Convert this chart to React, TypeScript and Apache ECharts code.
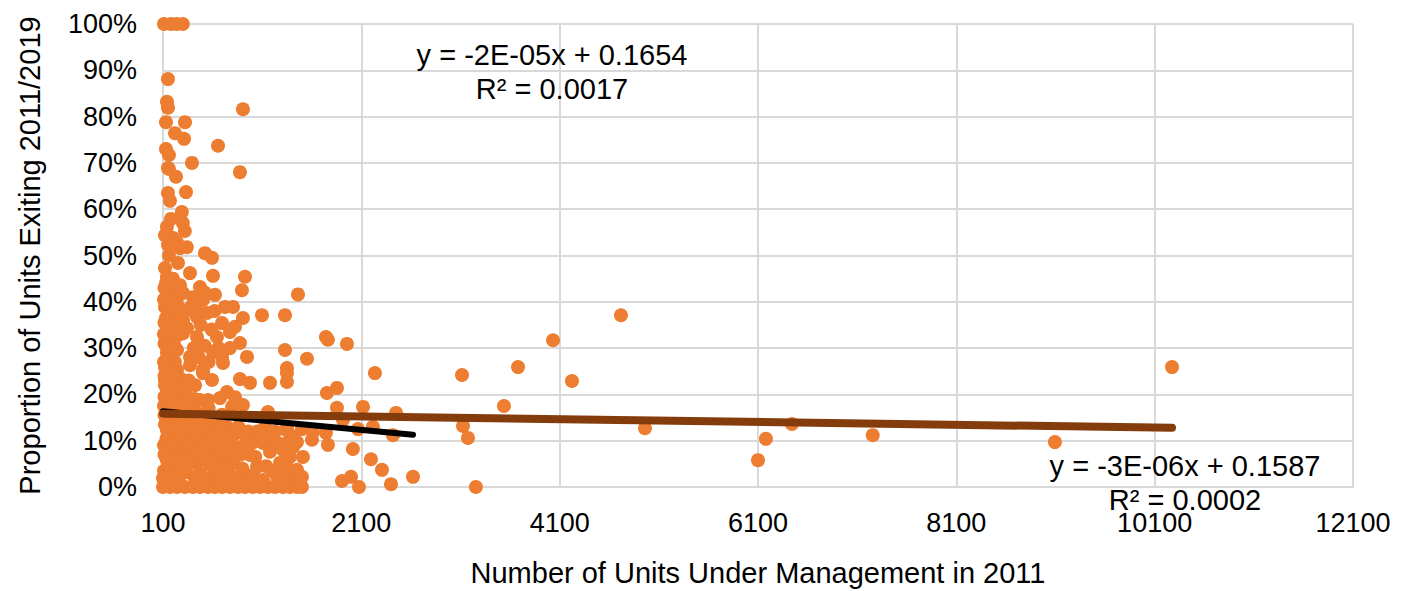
import React, { useEffect, useRef } from "react";
import * as echarts from "echarts";

// [units under management in 2011, % of units exiting 2011/2019]
const cappedExits: [number, number][] = [[110, 100], [180, 100], [240, 100], [300, 100]];

const highExitPoints: [number, number][] = [
  [150, 88.1], [140, 83.2], [150, 81.9], [906, 81.6], [130, 78.8], [322, 78.8], [221, 76.4], [312, 75.2],
  [655, 73.7], [130, 73.0], [160, 71.7], [392, 70.0], [150, 68.9], [876, 68.0], [160, 68.7], [231, 67.0],
  [150, 63.5], [170, 61.8], [332, 63.7], [290, 59.4], [180, 57.9], [300, 57.0], [140, 56.2], [320, 55.3],
  [120, 54.4], [200, 53.8], [240, 52.9], [150, 52.3], [270, 51.6], [340, 51.8], [523, 50.5], [594, 49.5],
  [120, 47.3], [251, 48.4], [140, 45.4], [372, 46.2], [604, 45.6], [927, 45.4], [160, 50.0], [200, 45.0],
];

const clusterUpper: [number, number][] = [
  [140, 43.2], [271, 43.6], [473, 43.2], [150, 41.0], [302, 41.9], [402, 41.0], [624, 41.5], [896, 42.5],
  [1461, 41.6], [120, 38.9], [241, 39.7], [372, 38.7], [503, 40.4], [725, 38.9], [806, 38.9], [906, 36.5],
  [1098, 37.1], [1330, 37.1], [171, 36.7], [302, 36.0], [443, 36.7], [544, 37.6], [695, 35.4], [826, 34.6],
  [150, 34.6], [342, 34.3], [171, 31.7], [302, 33.2], [443, 32.4], [644, 32.4], [775, 33.5], [876, 31.1],
  [140, 29.0], [241, 29.6], [372, 28.1], [604, 29.2], [695, 28.1], [775, 30.0], [947, 28.1], [1330, 29.6],
  [120, 25.9], [241, 25.3], [372, 26.3], [503, 25.3], [705, 26.8], [1350, 25.7], [110, 40.5], [190, 42.0],
  [130, 44.0], [130, 36.5], [110, 33.0], [190, 34.0], [130, 30.5], [110, 27.0], [190, 28.0],
  [410, 30.0], [460, 28.0], [520, 30.5], [560, 27.0], [480, 35.0], [590, 34.0], [620, 38.0], [660, 30.0],
  [430, 39.0], [520, 42.0], [270, 33.0], [330, 38.0], [115, 31.0], [135, 32.5], [160, 33.5], [185, 36.0],
  [115, 35.5], [160, 38.0], [185, 39.0], [135, 39.5], [160, 42.0], [115, 43.0], [185, 44.5], [200, 40.0],
  [210, 38.0], [220, 35.0], [210, 31.0], [220, 27.0], [160, 26.0], [185, 26.5], [135, 27.5], [160, 29.5],
  [185, 30.5],
];

const clusterLower: [number, number][] = [
  [1350, 24.6], [120, 23.1], [271, 23.5], [423, 22.0], [503, 24.6], [594, 23.1], [876, 23.3], [977, 22.5],
  [1179, 22.5], [1350, 22.7], [140, 21.0], [302, 21.4], [745, 20.5], [171, 19.2], [342, 19.4], [473, 18.8],
  [554, 18.8], [675, 19.2], [826, 19.4], [796, 17.3], [906, 17.7], [1158, 16.2], [140, 17.3], [271, 16.6],
  [402, 17.1], [544, 16.2], [695, 15.6], [150, 14.5], [342, 14.5], [473, 14.5], [644, 13.8], [745, 13.0],
  [1128, 13.0], [1350, 12.7], [140, 12.3], [271, 12.3], [402, 11.7], [544, 11.9], [171, 10.2], [302, 10.6],
  [473, 9.5], [947, 10.6], [1108, 9.5], [775, 10.8], [140, 8.0], [271, 7.6], [402, 8.0], [523, 7.3],
  [644, 7.6], [846, 8.6], [977, 6.9], [1179, 7.6], [1310, 8.0], [1410, 8.6], [140, 5.8], [302, 5.4],
  [443, 5.2], [574, 4.8], [806, 5.2], [1048, 4.3], [1279, 5.2], [171, 3.2], [342, 3.2], [473, 3.0],
  [604, 2.2], [947, 2.2], [1249, 2.2], [1380, 1.5], [100, 1.9], [241, 1.5], [775, 1.5], [1108, 1.5],
  [110, 3.5], [130, 6.5], [110, 9.0], [190, 11.0], [120, 13.5], [180, 15.5], [110, 17.5], [190, 20.0],
  [120, 22.0], [180, 24.5], [574, 10.5], [675, 9.0], [725, 5.5], [900, 4.0], [1000, 9.5], [1050, 12.0],
  [620, 11.5], [860, 13.0], [500, 12.5], [380, 13.5], [560, 1.5], [680, 3.5], [880, 1.0], [1200, 3.5],
  [1000, 2.5], [400, 5.5], [230, 9.5], [650, 6.0], [780, 7.0],
  [115, 1.0], [135, 2.5], [160, 4.5], [185, 6.0], [115, 7.0], [160, 9.0], [135, 10.5], [185, 13.0],
  [160, 12.0], [115, 15.5], [135, 16.0], [160, 18.0], [185, 17.5], [115, 19.5], [135, 20.0], [160, 22.5],
  [185, 21.5], [115, 24.0], [210, 24.0], [220, 20.0], [210, 16.0], [220, 13.0], [210, 9.0], [220, 6.0],
  [210, 2.0], [220, 0.5], [260, 2.0], [290, 4.0], [330, 6.5], [360, 9.0], [290, 11.0], [330, 13.0],
  [260, 14.0], [360, 16.0], [300, 18.0], [330, 20.0], [260, 21.0], [360, 23.0], [420, 2.0], [450, 7.0],
  [430, 10.0], [460, 12.0], [440, 16.0], [420, 19.0], [520, 2.0], [540, 6.0], [500, 9.0], [520, 14.0],
  [560, 17.0], [600, 5.0], [620, 9.0], [580, 12.0], [600, 15.0], [660, 11.0], [700, 12.0], [720, 2.0],
  [760, 4.0], [700, 7.0], [740, 9.5], [820, 2.0], [830, 11.5], [880, 7.0], [920, 9.0], [960, 12.0],
  [1030, 6.5], [1060, 1.0], [1100, 11.0], [1140, 4.5], [1190, 10.0], [1230, 12.0], [1260, 9.5], [1290, 3.0],
  [1400, 11.0], [1420, 3.0],
  [100, 0], [171, 0], [241, 0], [322, 0], [402, 0], [473, 0], [554, 0], [624, 0], [695, 0], [775, 0],
  [856, 0], [927, 0], [1007, 0], [1078, 0], [1158, 0], [1229, 0], [1310, 0], [1380, 0], [1451, 0], [1501, 0],
];

const midSizePoints: [number, number][] = [
  [1743, 32.4], [1763, 31.8], [1955, 30.9], [1552, 27.7], [2237, 24.6], [1753, 20.3], [1854, 21.4],
  [1854, 17.1], [2117, 17.3], [1915, 14.5], [2450, 16.0], [1340, 12.3], [1501, 12.5], [1612, 11.9],
  [1743, 11.7], [2066, 12.5], [2217, 13.0], [2419, 11.2], [1763, 9.1], [2015, 8.2], [2197, 6.0],
  [2308, 3.7], [2621, 2.2], [1905, 1.3], [1996, 2.2], [2076, 0], [2399, 0.6], [1350, 9.5], [1451, 9.7],
  [1380, 6.5], [1511, 6.5], [1350, 4.3], [1451, 3.7], [1501, 2.2], [1602, 10.2],
];

const largeOperators: [number, number][] = [
  [3115, 24.2], [3680, 25.9], [4033, 31.7], [4718, 37.1], [4224, 22.9], [10275, 25.9], [3538, 17.5],
  [3125, 13.2], [3175, 10.6], [4960, 12.7], [6442, 13.6], [7257, 11.2], [6180, 10.4], [6100, 5.8],
  [9094, 9.7], [3255, 0],
];

// Excel linear trendlines
const trendAll = { slope: -3e-6, intercept: 0.1587, label: "y = -3E-06x + 0.1587", r2: "R² = 0.0002" };
const trendSmall = { slope: -2e-5, intercept: 0.1654, label: "y = -2E-05x + 0.1654", r2: "R² = 0.0017", maxUnits: 3000 };

const xTitle = "Number of Units Under Management in 2011";
const yTitle = "Proportion of Units Exiting 2011/2019";

const FONT = "'Liberation Sans', Arial, sans-serif";

export default function App() {
  const ref = useRef<HTMLDivElement>(null);
  useEffect(() => {
    if (!ref.current) return;
    const chart = echarts.init(ref.current, undefined, { renderer: "svg" });
    const all = [...cappedExits, ...highExitPoints, ...clusterUpper, ...clusterLower, ...midSizePoints, ...largeOperators];
    const pts = all.map(([x, y]) => [x, y / 100]);
    const xs = pts.map((p) => p[0]);
    const minX = Math.min(...xs);
    const maxX = Math.max(...xs);
    const smallXs = xs.filter((x) => x <= trendSmall.maxUnits);
    const maxSmall = Math.max(...smallXs);
    const line = (t: { slope: number; intercept: number }, a: number, b: number) => [
      [a, t.intercept + t.slope * a],
      [b, t.intercept + t.slope * b],
    ];
    const txt = (text: string, x: number, y: number) => ({
      type: "text",
      x,
      y,
      z: 100,
      style: {
        text,
        fill: "#000",
        fontSize: 29,
        fontFamily: FONT,
        textAlign: "center",
        textVerticalAlign: "middle",
      },
    });
    chart.setOption({
      animation: false,
      backgroundColor: "#fff",
      grid: { left: 163, right: 49, top: 24, bottom: 104, containLabel: false, outerBoundsMode: "none" },
      xAxis: {
        type: "value",
        min: 100,
        max: 12100,
        interval: 2000,
        name: xTitle,
        nameLocation: "middle",
        nameGap: 71,
        nameTextStyle: { fontSize: 29, fontFamily: FONT, color: "#000" },
        axisLine: { show: true, lineStyle: { color: "#d9d9d9", width: 2 } },
        axisTick: { show: false },
        axisLabel: { fontSize: 27, fontFamily: FONT, color: "#000", margin: 22, formatter: (v: number) => String(v) },
        splitLine: { show: true, lineStyle: { color: "#d9d9d9", width: 2 } },
      },
      yAxis: {
        type: "value",
        min: 0,
        max: 1,
        interval: 0.1,
        name: yTitle,
        nameLocation: "middle",
        nameGap: 119,
        nameRotate: 90,
        nameTextStyle: { fontSize: 29, fontFamily: FONT, color: "#000" },
        axisLine: { show: true, lineStyle: { color: "#d9d9d9", width: 2 } },
        axisTick: { show: false },
        axisLabel: {
          fontSize: 27,
          fontFamily: FONT,
          color: "#000",
          margin: 26,
          formatter: (v: number) => `${Math.round(v * 100)}%`,
        },
        splitLine: { show: true, lineStyle: { color: "#d9d9d9", width: 2 } },
      },
      series: [
        {
          type: "scatter",
          data: pts,
          symbolSize: 14,
          itemStyle: { color: "#ED7D31", opacity: 1 },
          z: 2,
        },
        {
          type: "line",
          data: line(trendSmall, minX, maxSmall),
          showSymbol: false,
          lineStyle: { color: "#000", width: 6, cap: "round" },
          z: 3,
        },
        {
          type: "line",
          data: line(trendAll, minX, maxX),
          showSymbol: false,
          lineStyle: { color: "#843C0C", width: 8, cap: "round" },
          z: 4,
        },
      ],
      graphic: [
        txt(trendSmall.label, 552, 55),
        txt(trendSmall.r2, 552, 89),
        txt(trendAll.label, 1185, 466),
        txt(trendAll.r2, 1185, 500),
      ],
    });
    return () => chart.dispose();
  }, []);
  return <div ref={ref} style={{ position: "fixed", left: 0, top: 0, width: 1402, height: 591 }} />;
}
